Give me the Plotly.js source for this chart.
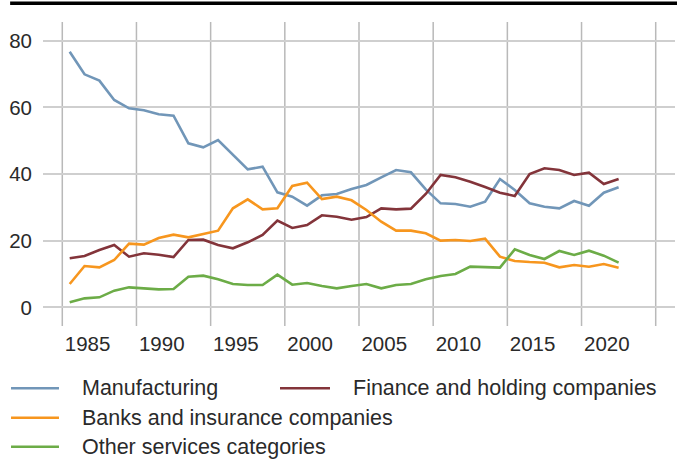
<!DOCTYPE html>
<html>
<head>
<meta charset="utf-8">
<script src="https://cdn.plot.ly/plotly-3.0.1.min.js"></script>
<style>html,body{margin:0;padding:0;background:#fff;}#chart{width:677px;height:462px;}</style>
</head>
<body>
<div id="chart"></div>
<script>
var years = [1984,1985,1986,1987,1988,1989,1990,1991,1992,1993,1994,1995,1996,1997,1998,1999,2000,2001,2002,2003,2004,2005,2006,2007,2008,2009,2010,2011,2012,2013,2014,2015,2016,2017,2018,2019,2020,2021];
var manufacturing = [76.7,69.9,68.0,62.2,59.7,59.1,57.9,57.5,49.2,48.0, 50.2,45.8,41.4,42.2,34.5,33.2,30.5,33.6,34.0,35.5, 36.7,39.0,41.2,40.5,35.4,31.2,31.0,30.2,31.7,38.5, 35.2,31.2,30.2,29.7,31.9,30.5,34.4,36.0];
var finance = [14.7,15.4,17.2,18.7,15.2,16.2,15.8,15.1,20.2,20.3, 18.7,17.7,19.5,21.7,26.0,23.8,24.7,27.6,27.2,26.3, 27.1,29.7,29.4,29.6,34.0,39.7,39.0,37.7,36.1,34.4, 33.4,40.0,41.7,41.2,39.7,40.4,37.0,38.5];
var banks = [7.0,12.4,12.0,14.2,19.1,18.8,20.8,21.8,21.0,22.0, 23.0,29.7,32.4,29.4,29.7,36.4,37.4,32.5,33.2,32.1, 29.2,25.7,23.0,23.0,22.2,20.0,20.2,19.9,20.6,15.2, 13.9,13.6,13.4,12.0,12.7,12.2,13.0,11.9];
var other = [1.5,2.7,3.0,5.0,6.0,5.8,5.4,5.5,9.2,9.5, 8.4,7.0,6.7,6.7,9.8,6.8,7.3,6.4,5.7,6.4, 7.0,5.7,6.7,7.0,8.4,9.4,10.0,12.2,12.0,11.9, 17.4,15.7,14.5,16.9,15.7,17.0,15.5,13.4];
var seriesNames = ["Manufacturing","Finance and holding companies","Banks and insurance companies","Other services categories"];
var xTickVals = [1985,1990,1995,2000,2005,2010,2015,2020];
var yTickVals = [0,20,40,60,80];
var xGridVals = [1983.5,1988.5,1993.5,1998.5,2003.5,2008.5,2013.5,2018.5,2023.5];

var seriesValues = [manufacturing, finance, banks, other];
var seriesColors = ["#7196b8", "#83343a", "#f7961e", "#6cac47"];
// legend placement (paper coords): [lineStartX, lineEndX, textX, rowY]
var legendSlots = [[-0.0506,0.0253,0.058,-0.205],[0.375,0.4541,0.488,-0.205],[-0.0506,0.0253,0.058,-0.3016],[-0.0506,0.0253,0.058,-0.397]];

var data = seriesValues.map(function(v,i){
  return {x: years, y: v, name: seriesNames[i], type:"scatter", mode:"lines",
          line:{color: seriesColors[i], width:2.6}, showlegend:false, hoverinfo:"skip"};
});

var shapes = xGridVals.map(function(v){
  return {type:"line", xref:"x", yref:"paper", x0:v, x1:v, y0:0, y1:1, layer:"below",
          line:{color:"#b9b9b9", width:1.5}};
});
shapes.push({type:"line", xref:"paper", yref:"paper", x0:-0.052, x1:1.01, y0:1.0615, y1:1.0615,
             line:{color:"#000", width:3.6}});
var annotations = [];
legendSlots.forEach(function(s,i){
  shapes.push({type:"line", xref:"paper", yref:"paper", x0:s[0], x1:s[1], y0:s[3], y1:s[3],
               line:{color: seriesColors[i], width:2.6}});
  annotations.push({xref:"paper", yref:"paper", x:s[2], y:s[3], xanchor:"left", yanchor:"middle",
                    text: seriesNames[i], showarrow:false, font:{size:21.5, color:"#2a2a2a"}});
});

var ff = "Liberation Sans, Arial, sans-serif";
var layout = {
  width: 677, height: 462,
  margin: {l:43, r:2, t:22, b:136, autoexpand:false},
  paper_bgcolor:"#fff", plot_bgcolor:"#fff",
  showlegend: false,
  font: {family: ff, color: "#2a2a2a", size: 20},
  xaxis: {range:[1982.2, 2024.8], tickvals: xTickVals, ticktext: xTickVals.map(String),
          showgrid:false, zeroline:false, showline:false, ticks:"",
          tickfont:{size:20.5, color:"#2a2a2a"}, ticklabelstandoff: 3, ticklabelshift: 3, fixedrange:true},
  yaxis: {range:[-5.6, 85.6], tickvals: yTickVals, ticktext: yTickVals.map(String),
          showgrid:true, gridcolor:"#cfcfcf", gridwidth:2, zeroline:false, showline:false, ticks:"",
          tickfont:{size:20.5, color:"#2a2a2a"}, ticklabelstandoff: 10, fixedrange:true},
  shapes: shapes,
  annotations: annotations
};
Plotly.newPlot("chart", data, layout, {staticPlot:true, displayModeBar:false});
</script>
</body>
</html>
